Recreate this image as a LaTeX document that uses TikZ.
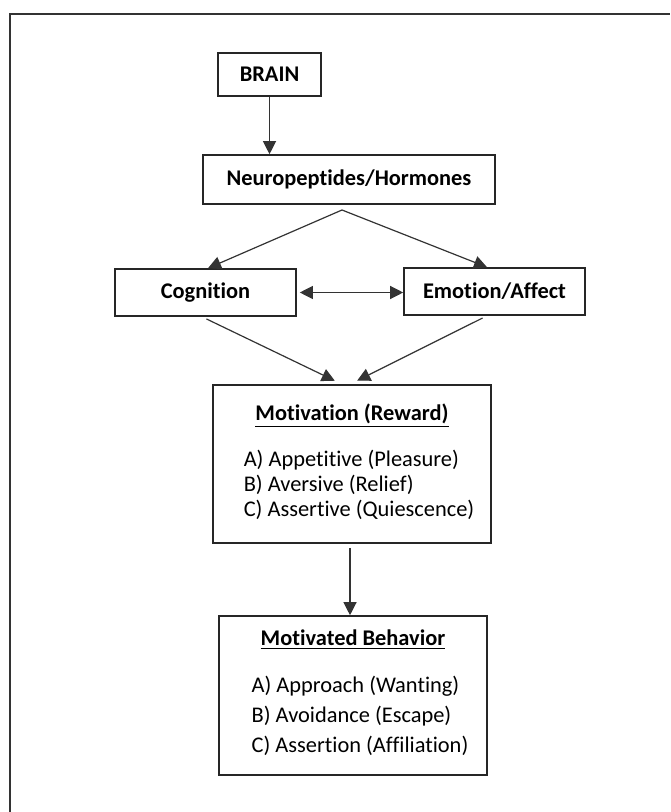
\documentclass[tikz,border=0pt]{standalone}
\usepackage{fontspec}
\setmainfont{Carlito}[Ligatures=NoCommon]
\usepackage{tikz}
\usetikzlibrary{arrows.meta,positioning}

\begin{document}
\begin{tikzpicture}[x=0.5pt,y=-0.5pt,>={Triangle[length=6.5pt,width=6.5pt]},line width=0.6pt,
    box/.style={draw=black!85,line width=0.8pt,rectangle,inner sep=0pt,align=center,
      font=\bfseries\fontsize{11.2}{13}\selectfont},
    listbox/.style={box,font=\fontsize{11.2}{12.5}\selectfont},
    link/.style={color=black!80}]
    \useasboundingbox (0,0) rectangle (670,812);
    % outer frame (cut off at right and bottom)
    \draw[black!80,line width=1pt] (10,812) -- (10,14) -- (670,14);

    \node[box,minimum width=51.5pt,minimum height=21.5pt] (brain) at (269.5,74.5) {BRAIN};
    \node[box,minimum width=146pt,minimum height=24.5pt] (neuro) at (349,179.5) {Neuropeptides/Hormones};
    \node[box,minimum width=90.5pt,minimum height=23.5pt] (cog) at (205.5,292.5) {Cognition};
    \node[box,minimum width=90.5pt,minimum height=23.5pt] (emo) at (494.5,291.5) {Emotion/Affect};
    \node[listbox,minimum width=139pt,minimum height=79pt] (mot) at (352,464)
      {\textbf{\underline{Motivation (Reward)}}\\[10.5pt]
       \begin{tabular}[t]{@{\hspace{7pt}}l@{}}
         A) Appetitive (Pleasure)\\
         B) Aversive (Relief)\\
         C) Assertive (Quiescence)
       \end{tabular}};
    \node[listbox,font=\fontsize{11.2}{15}\selectfont,minimum width=134pt,minimum height=79.5pt] (beh) at (353,695.5)
      {\textbf{\underline{Motivated Behavior}}\\[8.5pt]
       \begin{tabular}[t]{@{\hspace{7pt}}l@{}}
         A) Approach (Wanting)\\
         B) Avoidance (Escape)\\
         C) Assertion (Affiliation)
       \end{tabular}};
    \coordinate (split) at (342,210);

    % paths from the brain down to cognition and emotion
    \path[->,link]
    (brain.south) edge (brain.south |- neuro.north)
    (split) edge ([xshift=1.25pt]cog.north)
    (split) edge ([xshift=-3.75pt]emo.north);
    % link between cognition and emotion
    \path[<->,link,shorten <=1.5pt]
    (cog.east) edge (cog.east -| emo.west);
    % paths into motivation and behavior
    \path[->,link,shorten <=2.5pt,shorten >=4pt]
    ([xshift=-1.75pt]cog.south) edge ([xshift=-5pt]mot.north)
    ([xshift=-3.75pt]emo.south) edge ([xshift=-1pt]mot.north);
    \path[->,link,shorten <=2pt]
    ([xshift=-1pt]mot.south) edge ([xshift=-1pt]mot.south |- beh.north);

\end{tikzpicture}
\end{document}
